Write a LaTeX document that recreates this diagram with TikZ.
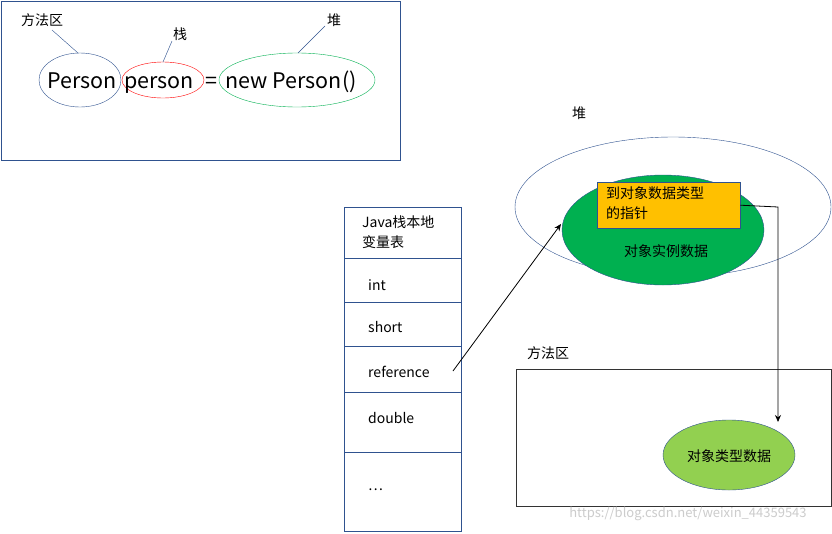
\documentclass[tikz,border=0pt]{standalone}
\usepackage{fontspec}
\setmainfont{Noto Sans CJK SC}
\usetikzlibrary{arrows.meta}
\definecolor{bl}{RGB}{47,82,143}
\definecolor{gr}{RGB}{0,176,80}
\definecolor{lg}{RGB}{146,208,80}
\definecolor{org}{RGB}{255,192,0}
\begin{document}
\begin{tikzpicture}[x=1pt,y=-1pt,
  lbl/.style={font=\fontsize{14}{18}\selectfont,inner sep=0},
  big/.style={font=\fontsize{21.5}{24}\selectfont,inner sep=0,anchor=base},
  lead/.style={draw=bl,thin},
  arr/.style={-{Stealth[length=7pt,width=6pt]},black,line width=0.8pt}]
\useasboundingbox[fill=white] (0,0) rectangle (832,533);
% top-left box
\draw[bl] (1,1) rectangle (400,160);
\draw[bl] (80,80) ellipse [x radius=41,y radius=27];
\node[big] (p1) at (82,88) {Person};
\draw[red] (163,80) ellipse [x radius=41,y radius=18];
\node[big] (p2) at (159,88) {person};
\node[big] (eq) at (211,88) {=};
\draw[gr] (297,80) ellipse [x radius=78,y radius=27];
\node[big] (p3) at (291,88) {new Person()};
\node[lbl] (l1) at (42,20) {方法区};
\node[lbl] (l2) at (180,34) {栈};
\node[lbl] (l3) at (334,20) {堆};
\coordinate (a1) at (52,30); \coordinate (b1) at (78,53);
\coordinate (a2) at (172,41); \coordinate (b2) at (163,62);
\coordinate (a3) at (325,26); \coordinate (b3) at (298,53);
\draw[lead] (a1)--(b1); \draw[lead] (a2)--(b2); \draw[lead] (a3)--(b3);
% table
\draw[bl] (344,207) rectangle (461,531);
\foreach \y in {258,302,346,392,452} \draw[bl] (344,\y)--(461,\y);
\node[lbl,align=left,anchor=west,font=\fontsize{14}{20}\selectfont] (t0) at (362,232) {Java栈本地\\变量表};
\node[lbl,anchor=west] (t1) at (368,285) {int};
\node[lbl,anchor=west] (t2) at (368,327) {short};
\node[lbl,anchor=west] (t3) at (368,372) {reference};
\node[lbl,anchor=west] (t4) at (368,418) {double};
\node[lbl,anchor=west] (t5) at (368,490) {…};
% heap
\node[lbl] (hl) at (579,113) {堆};
\draw[bl] (673,207) ellipse [x radius=158,y radius=70];
\draw[bl,fill=gr] (663,230) ellipse [x radius=101,y radius=55];
\node[lbl] (inst) at (666,251) {对象实例数据};
\node[draw=bl,fill=org,minimum width=143pt,minimum height=46pt,anchor=north west,inner sep=0] (ptr) at (597,182) {};
\node[lbl,align=left,anchor=north west,font=\fontsize{14}{20}\selectfont] (ptrt) at (606,186) {到对象数据类型\\的指针};
\coordinate (ref) at (453,371);
\coordinate (hin) at (561,224);
\draw[arr] (ref)--(hin);
% method area
\node[lbl] (ml) at (548,353) {方法区};
\draw[black!80] (516,369) rectangle (831,506);
\draw[bl,fill=lg] (729,455) ellipse [x radius=66,y radius=35];
\node[lbl] (typ) at (729,456) {对象类型数据};
\coordinate (c1) at (778,207);
\coordinate (c2) at (778,422);
\draw[arr] (ptr.east) -- (c1) -- (c2);
\node[font=\fontsize{13}{15}\selectfont,text=black!20,inner sep=0] (wm) at (688,514) {https://blog.csdn.net/weixin\_44359543};
\end{tikzpicture}
\end{document}
